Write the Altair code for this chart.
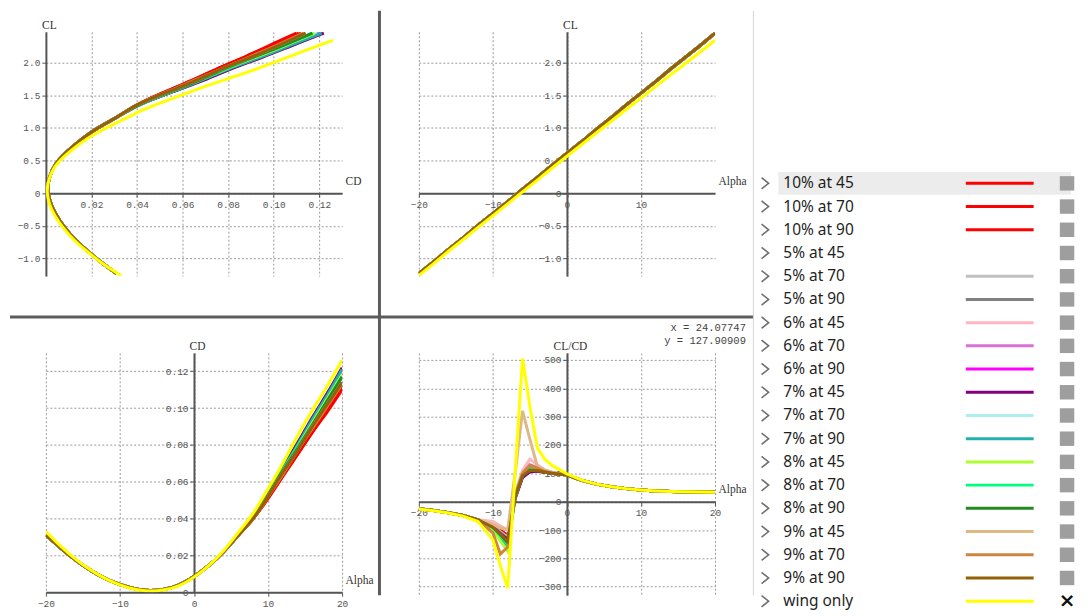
import altair as alt
import pandas as pd

SERIES = ["10% at 45", "10% at 70", "10% at 90", "5% at 45", "5% at 70", "5% at 90",
          "6% at 45", "6% at 70", "6% at 90", "7% at 45", "7% at 70", "7% at 90",
          "8% at 45", "8% at 70", "8% at 90", "9% at 45", "9% at 70", "9% at 90", "wing only"]
COLORS = ["#ff0000", "#ff0000", "#ff0000", "#ffffff", "#c0c0c0", "#808080",
          "#ffb6c1", "#da70d6", "#ff00ff", "#800080", "#afeeee", "#20b2aa",
          "#adff2f", "#00ff7f", "#228b22", "#deb887", "#cd853f", "#94600a", "#ffff00"]

# angle of attack grid for CL / CD
ALPHA = [-20, -18, -16, -14, -12, -10, -8, -6, -4, -2, 0, 2, 4, 6, 8, 10, 12, 14, 16, 18, 20]
CL_FLAP = [-1.23, -1.05, -0.86, -0.68, -0.49, -0.31, -0.13, 0.06, 0.24, 0.43, 0.61,
           0.79, 0.98, 1.16, 1.35, 1.53, 1.71, 1.90, 2.08, 2.26, 2.45]
CL_WING = [-1.26, -1.08, -0.89, -0.71, -0.525, -0.345, -0.165, 0.02, 0.20, 0.385, 0.565,
           0.745, 0.925, 1.10, 1.28, 1.455, 1.635, 1.81, 1.985, 2.16, 2.34]
# CD for alpha -20..6 (common to flap cases)
CD_LOW = [0.031, 0.024, 0.0175, 0.012, 0.0075, 0.0042, 0.0019, 0.0009, 0.0016, 0.0040,
          0.0085, 0.0145, 0.022, 0.031]
# CD for alpha 8..20, per case
CD_HIGH = {
    "10% at 45": [0.040, 0.051, 0.063, 0.075, 0.087, 0.098, 0.110],
    "10% at 70": [0.040, 0.051, 0.063, 0.075, 0.087, 0.099, 0.111],
    "10% at 90": [0.040, 0.052, 0.064, 0.076, 0.088, 0.100, 0.112],
    "5% at 45": [0.041, 0.054, 0.067, 0.080, 0.094, 0.107, 0.121],
    "5% at 70": [0.041, 0.054, 0.067, 0.080, 0.094, 0.107, 0.121],
    "5% at 90": [0.041, 0.054, 0.067, 0.081, 0.094, 0.108, 0.121],
    "6% at 45": [0.041, 0.053, 0.066, 0.080, 0.093, 0.106, 0.120],
    "6% at 70": [0.041, 0.053, 0.066, 0.080, 0.093, 0.106, 0.120],
    "6% at 90": [0.041, 0.054, 0.067, 0.080, 0.094, 0.107, 0.121],
    "7% at 45": [0.041, 0.054, 0.068, 0.081, 0.095, 0.108, 0.122],
    "7% at 70": [0.041, 0.053, 0.066, 0.079, 0.092, 0.105, 0.119],
    "7% at 90": [0.041, 0.054, 0.067, 0.080, 0.094, 0.107, 0.121],
    "8% at 45": [0.041, 0.053, 0.066, 0.079, 0.092, 0.105, 0.118],
    "8% at 70": [0.041, 0.053, 0.066, 0.079, 0.091, 0.104, 0.117],
    "8% at 90": [0.041, 0.053, 0.066, 0.078, 0.091, 0.104, 0.117],
    "9% at 45": [0.040, 0.052, 0.065, 0.077, 0.090, 0.102, 0.114],
    "9% at 70": [0.040, 0.052, 0.064, 0.077, 0.089, 0.101, 0.113],
    "9% at 90": [0.040, 0.052, 0.065, 0.077, 0.090, 0.102, 0.114],
}
CD_WING = [0.033, 0.025, 0.018, 0.0122, 0.0075, 0.0040, 0.0016, 0.0006, 0.0013, 0.0036,
           0.0082, 0.0145, 0.0225, 0.0325, 0.043, 0.056, 0.070, 0.085, 0.099, 0.112, 0.126]

# CL/CD curves
ALPHA_LD = [-20, -18, -16, -14, -12, -10, -9, -8, -7, -6, -5, -4, -3, -2,
            0, 2, 4, 6, 8, 10, 12, 14, 16, 18, 20]
LD_LEFT = [-25, -31, -39, -49, -64]
LD_MID = {
    "10% at 45": [-85, -100, -120, 15, 90, 110, 108, 104, 100],
    "10% at 70": [-86, -102, -122, 15, 90, 112, 109, 104, 100],
    "10% at 90": [-87, -104, -124, 15, 92, 113, 110, 105, 100],
    "5% at 45": [-88, -108, -130, 18, 95, 120, 114, 106, 101],
    "5% at 70": [-87, -106, -126, 17, 94, 118, 113, 106, 101],
    "5% at 90": [-88, -109, -132, 18, 96, 120, 114, 106, 101],
    "6% at 45": [-70, -85, -100, 30, 110, 150, 130, 112, 103],
    "6% at 70": [-90, -112, -140, 20, 100, 130, 120, 108, 102],
    "6% at 90": [-92, -118, -150, 18, 98, 125, 117, 107, 101],
    "7% at 45": [-90, -113, -135, 10, 85, 105, 108, 104, 100],
    "7% at 70": [-95, -130, -165, 15, 95, 120, 114, 106, 101],
    "7% at 90": [-94, -128, -160, 15, 94, 115, 112, 105, 101],
    "8% at 45": [-98, -138, -175, 25, 100, 120, 114, 106, 101],
    "8% at 70": [-92, -120, -150, 18, 96, 118, 113, 106, 101],
    "8% at 90": [-90, -116, -145, 16, 93, 112, 110, 105, 100],
    "9% at 45": [-80, -92, -100, 100, 320, 220, 125, 112, 103],
    "9% at 70": [-110, -185, -160, 20, 100, 128, 118, 107, 101],
    "9% at 90": [-90, -114, -140, 15, 92, 110, 110, 105, 100],
}
LD_RIGHT = [94, 75, 62, 53, 46, 41, 38, 36, 35, 34, 33]
LD_WING = [-26, -32, -40, -51, -70, -135, -225, -305, 100, 505, 335, 190, 150, 128,
           98, 76, 62, 53, 46, 41, 38, 36, 35, 34, 33]

TL_X_TICKS = [0.02, 0.04, 0.06, 0.08, 0.10, 0.12]
CL_TICKS = [-1.0, -0.5, 0, 0.5, 1.0, 1.5, 2.0]
TR_X_TICKS = [-20, -10, 0, 10]
ALPHA_TICKS = [-20, -10, 0, 10, 20]
CD_TICKS = [0, 0.02, 0.04, 0.06, 0.08, 0.10, 0.12]
LD_TICKS = [-300, -200, -100, 0, 100, 200, 300, 400, 500]
READOUT = ["x =  24.07747", "y = 127.90909"]

# ---------- data tables ----------
rows = []
for s in SERIES:
    if s == "wing only":
        cl, cd = CL_WING, CD_WING
    else:
        cl, cd = CL_FLAP, CD_LOW + CD_HIGH[s]
    for a, l, d in zip(ALPHA, cl, cd):
        rows.append({"series": s, "alpha": a, "CL": l, "CD": d})
df = pd.DataFrame(rows)

rows = []
for s in SERIES:
    ld = LD_WING if s == "wing only" else LD_LEFT + LD_MID[s] + LD_RIGHT
    for a, v in zip(ALPHA_LD, ld):
        rows.append({"series": s, "alpha": a, "LD": v})
df_ld = pd.DataFrame(rows)

# ---------- styling ----------
W = 297
H_TOP = 245
H_BL = 240
H_BR = 243
CL_DOM = [-1.27, 2.47]
CDX_DOM = [0, 0.13]
ALPHA_DOM = [-20, 20]
CDY_DOM = [0, 0.13]
LD_DOM = [-330, 525]

COMMON = dict(grid=True, gridColor="#8f8f8f", gridDash=[2, 2], gridWidth=1, gridOpacity=0.9,
              domainColor="#555555", domainWidth=2, tickColor="#555555", tickSize=4, tickWidth=1,
              labelFont="Liberation Mono", labelFontSize=9.5, labelColor="#555555", labelPadding=2,
              labelOverlap=False, labelFlush=False, titleFont="Liberation Serif", titleFontSize=11.5,
              titleFontWeight="normal", titleColor="#333333", titleAngle=0, titlePadding=0)

color = alt.Color("series:N", scale=alt.Scale(domain=SERIES, range=COLORS), legend=None)


def bottom_offset(ydom, h):
    return -h * (0 - ydom[0]) / (ydom[1] - ydom[0])


def left_offset(xdom, w):
    return -w * (0 - xdom[0]) / (xdom[1] - xdom[0])


def panel(data, xf, yf, xdom, ydom, xvals, yvals, xtitle, ytitle, h, xexpr, yexpr,
          interp, order=False, extra=()):
    x = alt.X(f"{xf}:Q", scale=alt.Scale(domain=xdom, nice=False, zero=False),
              axis=alt.Axis(values=xvals, title=xtitle, labelExpr=xexpr,
                            offset=bottom_offset(ydom, h), orient="bottom",
                            titleX=W + 3, titleY=-12, titleAlign="left",
                            titleBaseline="middle", **COMMON))
    y = alt.Y(f"{yf}:Q", scale=alt.Scale(domain=ydom, nice=False, zero=False),
              axis=alt.Axis(values=yvals, title=ytitle, labelExpr=yexpr,
                            offset=left_offset(xdom, W), orient="left",
                            titleX=3, titleY=-1, titleAlign="center",
                            titleBaseline="bottom", **COMMON))
    enc = dict(x=x, y=y, color=color)
    if order:
        enc["order"] = alt.Order("alpha:Q")
    lines = alt.Chart(data).mark_line(strokeWidth=3, interpolate=interp, clip=True).encode(**enc)
    return alt.layer(lines, *extra).properties(width=W, height=h)


blank = alt.Data(values=[{}])
vdiv = alt.Chart(blank).mark_rule(color="#5c5c5c", strokeWidth=3).encode(
    x=alt.value(334.5), y=alt.value(-21), y2=alt.value(565))
hdiv = alt.Chart(blank).mark_rule(color="#5c5c5c", strokeWidth=3).encode(
    x=alt.value(-36), x2=alt.value(709.5), y=alt.value(286))

fmt1 = "datum.value == 0 ? '0' : format(datum.value, '.1f')"
fmt2 = "datum.value == 0 ? '0' : format(datum.value, '.2f')"
fmtd = "format(datum.value, 'd')"

tl = panel(df, "CD", "CL", CDX_DOM, CL_DOM, TL_X_TICKS, CL_TICKS, "CD", "CL", H_TOP,
           "format(datum.value, '.2f')", fmt1, "natural", order=True, extra=(vdiv, hdiv))
tr = panel(df, "alpha", "CL", ALPHA_DOM, CL_DOM, TR_X_TICKS, CL_TICKS, "Alpha", "CL", H_TOP,
           fmtd, fmt1, "linear")
bl = panel(df, "alpha", "CD", ALPHA_DOM, CDY_DOM, ALPHA_TICKS, CD_TICKS, "Alpha", "CD", H_BL,
           fmtd, fmt2, "natural")

readout = [
    alt.Chart(blank).mark_text(text=READOUT[0], align="right", baseline="middle",
                               font="Liberation Mono", fontSize=10.5, color="#444444").encode(
        x=alt.value(328), y=alt.value(-25)),
    alt.Chart(blank).mark_text(text=READOUT[1], align="right", baseline="middle",
                               font="Liberation Mono", fontSize=10.5, color="#444444").encode(
        x=alt.value(328), y=alt.value(-12)),
]
br = panel(df_ld, "alpha", "LD", ALPHA_DOM, LD_DOM, ALPHA_TICKS, LD_TICKS, "Alpha", "CL/CD", H_BR,
           fmtd, "format(datum.value, 'd')", "linear", extra=tuple(readout))

# ---------- legend panel ----------
leg_df = pd.DataFrame({"series": SERIES})
Y = alt.Y("series:N", scale=alt.Scale(type="point", domain=SERIES, range=[152, 571], padding=0),
          axis=None)
leg_base = alt.Chart(leg_df)
hl = leg_base.transform_filter(alt.datum.series == SERIES[0]).mark_rule(
    color="#ececec", strokeWidth=23).encode(x=alt.value(-13.5), x2=alt.value(280), y=Y)
chev = leg_base.mark_point(shape="M-0.5,-0.8L0.5,0L-0.5,0.8", size=200, filled=False,
                           strokeWidth=1.6, color="#707070", opacity=1).encode(
    x=alt.value(-26.8), y=Y)
lab = leg_base.mark_text(align="left", baseline="middle", font="Noto Sans", fontSize=15.5,
                         color="#1f1f1f").encode(x=alt.value(-8.5), y=Y, text="series:N")
sw = leg_base.mark_rule(strokeWidth=3).encode(x=alt.value(174.5), x2=alt.value(242.5), y=Y,
                                               color=color)
box = leg_base.transform_filter(alt.datum.series != "wing only").mark_square(
    size=210, color="#9e9e9e", opacity=1).encode(x=alt.value(276), y=Y)
cross = leg_base.transform_filter(alt.datum.series == "wing only").mark_text(
    text="×", font="DejaVu Sans", fontSize=20, fontWeight="bold", color="#111111",
    baseline="middle").encode(x=alt.value(276), y=Y)
border = alt.Chart(blank).mark_rule(color="#d4d4d4", strokeWidth=1).encode(
    x=alt.value(-38.5), y=alt.value(-21), y2=alt.value(565))
legend = alt.layer(border, hl, chev, lab, sw, box, cross).properties(width=280, height=H_TOP)

chart = alt.concat(tl, tr, legend, bl, br, columns=3, spacing=77, bounds="flush").properties(
    padding=0, background="white").configure_view(stroke=None)

chart.save("out.html", embed_options={"renderer": "svg", "actions": False})
